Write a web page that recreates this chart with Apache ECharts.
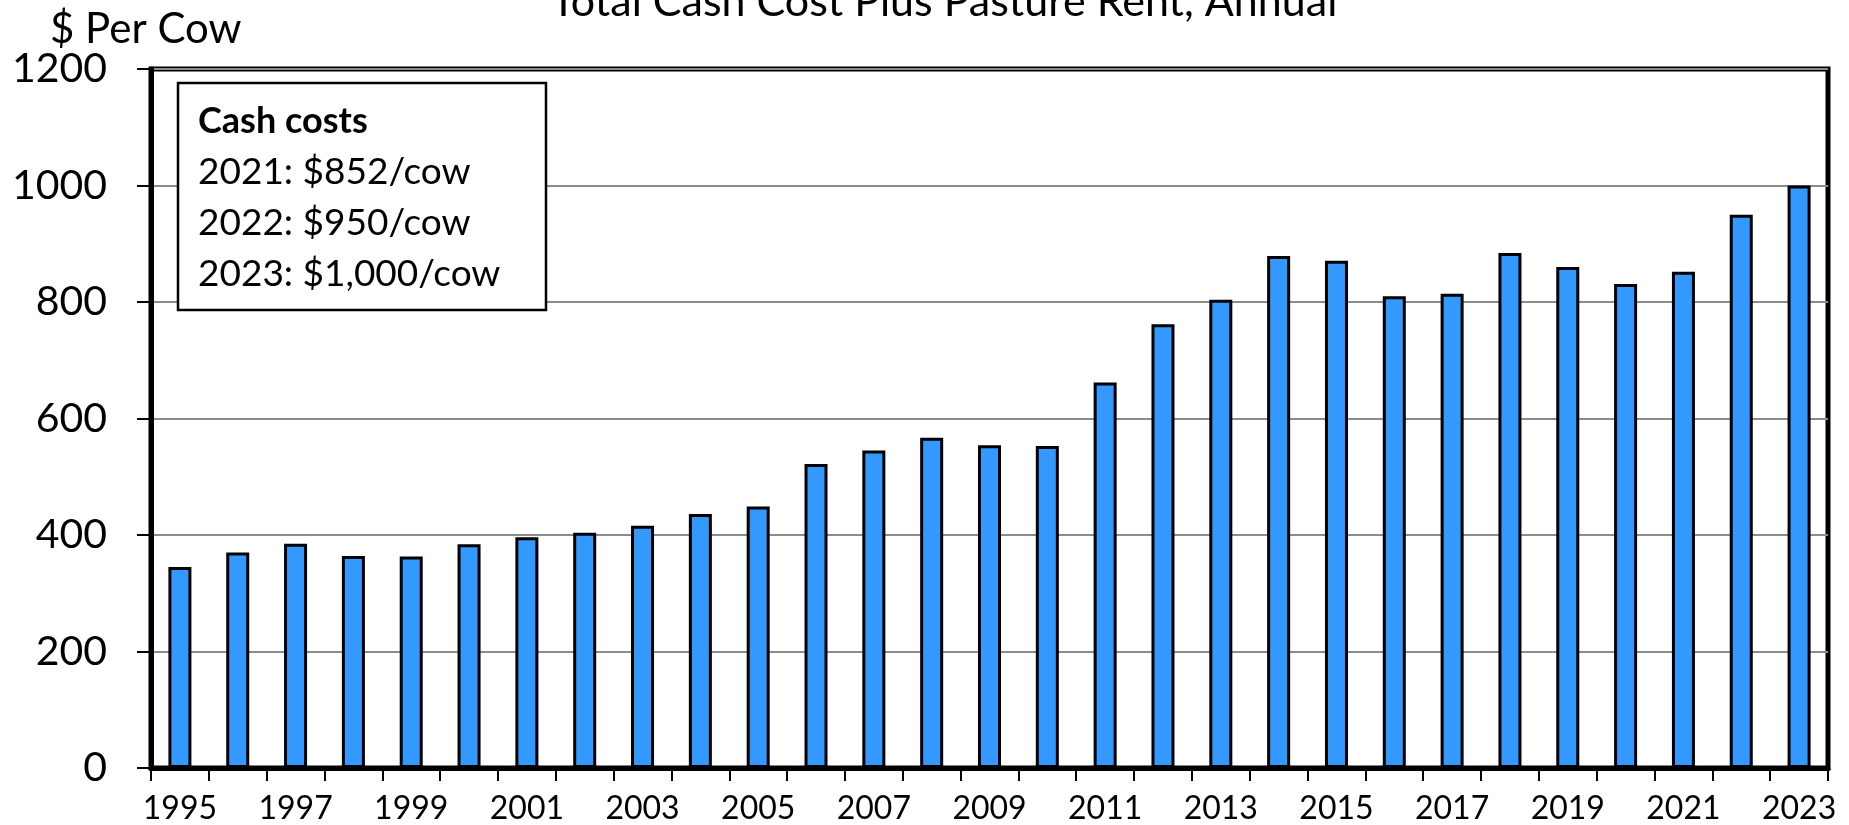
<!DOCTYPE html>
<html>
<head>
<meta charset="utf-8">
<script src="https://cdn.jsdelivr.net/npm/echarts@6/dist/echarts.min.js"></script>
<style>
  html, body { margin: 0; padding: 0; background: #fff; }
  #chart { width: 1849px; height: 825px; }
</style>
</head>
<body>
<div id="chart"></div>
<script>
// years on the x axis
const years = ['1995', '1996', '1997', '1998', '1999', '2000', '2001', '2002', '2003', '2004',
  '2005', '2006', '2007', '2008', '2009', '2010', '2011', '2012', '2013', '2014',
  '2015', '2016', '2017', '2018', '2019', '2020', '2021', '2022', '2023']
// total cash cost plus pasture rent, $ per cow
const cashCost = [345, 370, 385, 364, 363, 384, 396, 404, 416, 436,
  449, 522, 545, 567, 554, 553, 662, 762, 804, 879,
  871, 810, 814, 884, 860, 831, 852, 950, 1000]
// y axis ticks
const yTicks = [0, 200, 400, 600, 800, 1000, 1200]
// text box lines
const boxTitle = 'Cash costs'
const boxLines = ['2021: $852/cow', '2022: $950/cow', '2023: $1,000/cow']

const FONT = 'Lato, "Open Sans", sans-serif'

let myChart = echarts.init(document.getElementById('chart'))

let options = {
  animation: false,
  backgroundColor: '#fff',
  grid: {
    left: 151,
    right: 21,
    top: 69,
    bottom: 57,
    show: true,
    borderColor: '#000',
    borderWidth: 5,
    backgroundColor: 'transparent'
  },
  xAxis: {
    type: 'category',
    data: years,
    boundaryGap: true,
    axisLine: { lineStyle: { color: '#000', width: 5 } },
    axisTick: {
      show: true,
      interval: 0,
      alignWithLabel: false,
      length: 13,
      lineStyle: { color: '#000', width: 2 }
    },
    axisLabel: {
      interval: 1,
      color: '#000',
      fontFamily: FONT,
      fontSize: 32,
      margin: 25
    },
    splitLine: { show: false }
  },
  yAxis: {
    type: 'value',
    min: yTicks[0],
    max: yTicks[yTicks.length - 1],
    interval: yTicks[1] - yTicks[0],
    axisLine: { show: true, lineStyle: { color: '#000', width: 5 } },
    axisTick: { show: true, length: 14, lineStyle: { color: '#000', width: 2 } },
    axisLabel: {
      color: '#000',
      fontFamily: FONT,
      fontSize: 41,
      margin: 44,
      formatter: v => String(v)
    },
    splitLine: { show: true, lineStyle: { color: '#8c8c8c', width: 2 } }
  },
  series: [{
    name: 'Total Cash Cost Plus Pasture Rent',
    type: 'bar',
    data: cashCost,
    barWidth: 23,
    itemStyle: {
      color: '#3399ff',
      borderColor: '#000',
      borderWidth: 3
    }
  }],
  graphic: [
    // unit label
    {
      type: 'text',
      left: 50,
      top: 8,
      style: { text: '$ Per Cow', fill: '#000', font: '42px ' + FONT }
    },
    // title, cut at the top of the picture
    {
      type: 'text',
      x: 944,
      y: 2,
      style: {
        text: 'Total Cash Cost Plus Pasture Rent, Annual',
        fill: '#000',
        font: '43px ' + FONT,
        align: 'center',
        verticalAlign: 'middle'
      }
    },
    // cash costs box
    {
      type: 'rect',
      shape: { x: 178, y: 83, width: 368, height: 227 },
      style: { fill: '#fff', stroke: '#000', lineWidth: 2.5 },
      z: 10
    },
    {
      type: 'text',
      x: 198,
      y: 121,
      z: 11,
      style: {
        text: boxTitle,
        fill: '#000',
        font: 'bold 36px ' + FONT,
        verticalAlign: 'middle'
      }
    },
    ...boxLines.map((t, i) => ({
      type: 'text',
      x: 198,
      y: 172 + i * 51,
      z: 11,
      style: { text: t, fill: '#000', font: '37px ' + FONT, verticalAlign: 'middle' }
    }))
  ]
}

myChart.setOption(options)
</script>
</body>
</html>
